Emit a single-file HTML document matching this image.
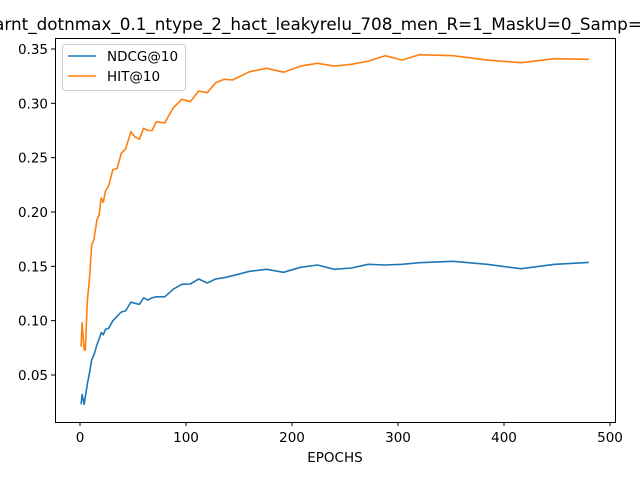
<!DOCTYPE html>
<html><head><meta charset="utf-8"><style>
html,body{margin:0;padding:0;background:#fff;width:640px;height:480px;overflow:hidden}
svg text{font-family:"DejaVu Sans","Liberation Sans",sans-serif;fill:#000}
</style></head><body>
<svg id="chart" width="640" height="480" xmlns="http://www.w3.org/2000/svg">
<text x="318" y="30" font-size="16.8" text-anchor="middle">arnt_dotnmax_0.1_ntype_2_hact_leakyrelu_708_men_R=1_MaskU=0_Samp=</text>
<g id="plot"></g>
<rect x="55.5" y="38.5" width="560" height="384" fill="none" stroke="#000" stroke-width="1"/>
<text x="335" y="462" font-size="13.5" text-anchor="middle">EPOCHS</text>
<g>
<rect x="62.5" y="44.5" width="123" height="46" rx="3" fill="#fff" fill-opacity="0.8" stroke="#ccc"/>
<line x1="68" y1="56" x2="96" y2="56" stroke="#1f77b4" stroke-width="1.5"/>
<text x="107" y="61" font-size="13.5">NDCG@10</text>
<line x1="68" y1="76" x2="96" y2="76" stroke="#ff7f0e" stroke-width="1.5"/>
<text x="107" y="81" font-size="13.5">HIT@10</text>
</g>
</svg>
<script>
const epochs=[1,2,4,5,7,9,11,13,16,18,20,22,24,27,31,35,39,43,48,52,56,60,64,68,72,80,88,96,104,112,120,128,136,144,160,176,192,208,224,240,256,272,288,304,320,352,384,416,448,480];
const hitValues=[0.076,0.098,0.073,0.073,0.119,0.139,0.170,0.174,0.193,0.197,0.213,0.209,0.219,0.224,0.239,0.240,0.254,0.258,0.274,0.269,0.267,0.277,0.275,0.275,0.283,0.282,0.296,0.3037,0.3015,0.3113,0.3098,0.319,0.3221,0.3215,0.3291,0.3322,0.3286,0.3343,0.3368,0.3343,0.3359,0.3389,0.3438,0.3398,0.3447,0.3438,0.3398,0.3374,0.3411,0.3405];
const ndcgValues=[0.023,0.032,0.023,0.030,0.042,0.052,0.064,0.068,0.078,0.083,0.089,0.087,0.092,0.093,0.100,0.104,0.108,0.109,0.117,0.116,0.115,0.121,0.119,0.121,0.122,0.122,0.129,0.1335,0.1337,0.1383,0.1347,0.1383,0.1395,0.1414,0.1454,0.1473,0.1445,0.1491,0.1512,0.1473,0.1485,0.1519,0.1512,0.1519,0.1533,0.1546,0.1519,0.1478,0.1519,0.1536];
const xTicks=[0,100,200,300,400,500];
const yTicks=[0.05,0.10,0.15,0.20,0.25,0.30,0.35];
const NS="http://www.w3.org/2000/svg";
const xs=e=>80+e*1.06;
const ys=v=>375-(v-0.05)*1086.7;
const g=document.getElementById('plot');
function mk(t,a){const el=document.createElementNS(NS,t);for(const k in a)el.setAttribute(k,a[k]);g.appendChild(el);return el;}
xTicks.forEach(t=>{
  const l=mk('line',{x1:xs(t),x2:xs(t),y1:422,y2:426,stroke:'#000'});
  
  
  const tx=mk('text',{x:xs(t),y:442,'font-size':13.5,'text-anchor':'middle'});
  
  
  tx.textContent=t;
});
yTicks.forEach(t=>{
  const l=mk('line',{x1:51,x2:55,y1:ys(t),y2:ys(t),stroke:'#000'});
  
  
  const tx=mk('text',{x:48,y:ys(t)+5,'font-size':13.5,'text-anchor':'end'});
  
  
  tx.textContent=t.toFixed(2);
});
function series(vals,color,name){
  const d=vals.map((v,i)=>(i?'L':'M')+xs(epochs[i]).toFixed(1)+' '+ys(v).toFixed(1)).join(' ');
  const p=mk('path',{d:d,fill:'none',stroke:color,'stroke-width':1.6,'stroke-linejoin':'round'});
  
  
}
series(ndcgValues,'#1f77b4','ndcg-line');
series(hitValues,'#ff7f0e','hit-line');
</script>
</body></html>
